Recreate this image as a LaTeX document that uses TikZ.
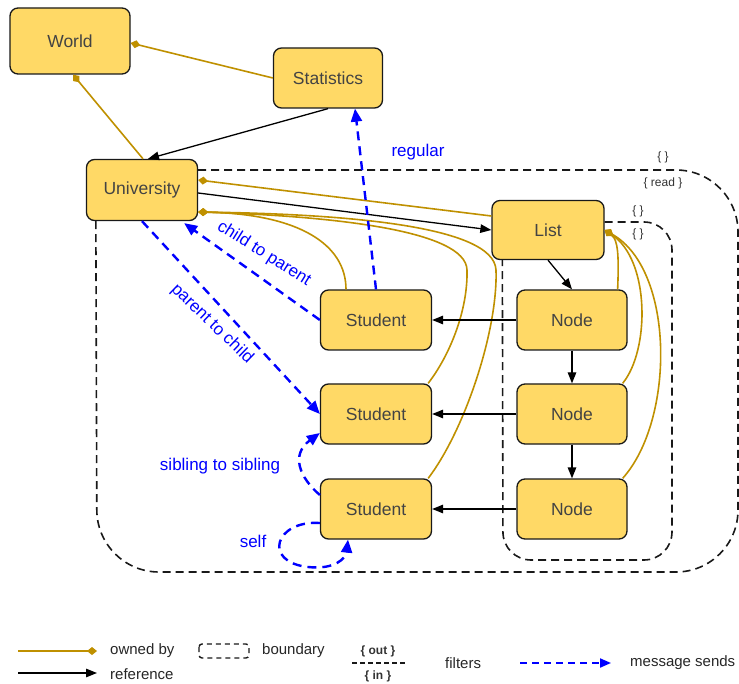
\documentclass[tikz,border=0pt]{standalone}
\usepackage{fontspec}
\setmainfont{Liberation Sans}
\usetikzlibrary{arrows.meta}
\definecolor{boxfill}{HTML}{FFD966}
\definecolor{owncol}{HTML}{BF9000}
\definecolor{msgblue}{HTML}{0000FF}
\definecolor{labgray}{HTML}{434343}
\begin{document}
\begin{tikzpicture}[x=1pt,y=-1pt,
  obj/.style={draw=black!90, line width=1.3pt, fill=boxfill, rounded corners=8pt,
    text=labgray, font=\fontsize{17.5}{20}\selectfont, inner sep=0pt},
  owned/.style={draw=owncol, line width=1.6pt, -{Diamond[length=10pt,width=8pt]}},
  ref/.style={draw=black, line width=1.3pt, -{Triangle[length=11pt,width=8.5pt]}},
  msg/.style={draw=msgblue, line width=2.4pt, dash pattern=on 9pt off 6pt,
    -{Triangle[length=13pt,width=11pt]}},
  bound/.style={draw=black!90, line width=1.6pt, dash pattern=on 8pt off 5pt},
  msglab/.style={text=msgblue, font=\fontsize{17}{20}\selectfont, inner sep=0pt},
  filt/.style={text=black!80, font=\fontsize{12}{14}\selectfont, inner sep=0pt},
  leg/.style={text=black!85, font=\fontsize{15}{18}\selectfont, anchor=west, inner sep=0pt}]

\useasboundingbox (0,0) rectangle (739,684);

% objects
\node[obj, minimum width=120pt, minimum height=66pt] (world) at (70,41) {World};
\node[obj, minimum width=109pt, minimum height=60pt] (stats) at (328,78) {Statistics};
\node[obj, minimum width=111pt, minimum height=61pt] (univ) at (142,190) {University};
\node[obj, minimum width=112pt, minimum height=59pt] (list) at (548,230) {List};
\node[obj, minimum width=111pt, minimum height=60pt] (s1) at (376,320) {Student};
\node[obj, minimum width=111pt, minimum height=60pt] (s2) at (376,414) {Student};
\node[obj, minimum width=111pt, minimum height=60pt] (s3) at (376,509) {Student};
\node[obj, minimum width=110pt, minimum height=60pt] (n1) at (572,320) {Node};
\node[obj, minimum width=110pt, minimum height=60pt] (n2) at (572,414) {Node};
\node[obj, minimum width=110pt, minimum height=60pt] (n3) at (572,509) {Node};

% boundaries
\draw[bound, rounded corners=62pt] ([yshift=20pt]univ.east) -- (738,170) -- (738,572)
  -- (97,572) -- ([xshift=10pt]univ.south west);
\draw[bound, rounded corners=28pt] ([yshift=8pt]list.east) -- (672,222) -- (672,560)
  -- (503,560) -- ([xshift=11pt]list.south west);
\node[filt] (fo1) at (663,157) {\{ \}};
\node[filt] (fi1) at (663,183) {\{ read \}};
\node[filt] (fo2) at (638,211) {\{ \}};
\node[filt] (fi2) at (638,234) {\{ \}};

% ownership
\draw[owned] (stats.west) -- ([yshift=-2pt]world.east);
\draw[owned] ([xshift=1pt]univ.north) -- ([xshift=3pt]world.south);
\draw[owned] ([yshift=14pt]list.west) -- ([yshift=10pt]univ.east);
\coordinate (uown) at ([yshift=-22pt]univ.east);
\draw[owned] ([xshift=-30pt]s1.north) .. controls (346,245) and (300,214) .. (uown);
\draw[owned] ([xshift=-4pt]s2.north east) .. controls (450,355) and (468,310) .. (467,270)
  .. controls (466,230) and (330,216) .. (uown);
\draw[owned] ([xshift=-4pt]s3.north east) .. controls (465,430) and (498,330) .. (496,270)
  .. controls (494,225) and (340,214) .. (uown);
\draw[owned] ([xshift=-10pt]n1.north east) .. controls (619,255) and (618,240) .. (list.east);
\draw[owned] ([xshift=-5pt]n2.north east) .. controls (650,350) and (650,260) .. (list.east);
\draw[owned] ([xshift=-5pt]n3.north east) .. controls (675,420) and (675,270) .. (list.east);

% references
\draw[ref] (stats.south) -- ([xshift=6pt]univ.north);
\draw[ref] ([yshift=-3pt]univ.east) -- (list.west);
\draw[ref] (list.south) -- (n1.north);
\draw[ref] (n1.south) -- (n2.north);
\draw[ref] (n2.south) -- (n3.north);
\draw[ref] (n1.west) -- (s1.east);
\draw[ref] (n2.west) -- (s2.east);
\draw[ref] (n3.west) -- (s3.east);

% message sends
\draw[msg] (s1.north) -- ([xshift=27pt]stats.south);
\node[msglab] (lreg) at (418,152) {regular};
\draw[msg] (s1.west) -- ([xshift=-14pt,yshift=-2pt]univ.south east);
\node[msglab, rotate=-32] (lcp) at (264,254) {child to parent};
\draw[msg] (univ.south) -- (s2.west);
\node[msglab, rotate=-44] (lpc) at (212,324) {parent to child};
\draw[msg] ([yshift=14pt]s3.west) .. controls (300,478) and (290,455) .. ([yshift=-19pt]s2.west);
\node[msglab] (lss) at (220,466) {sibling to sibling};
\draw[msg] ([yshift=-14pt]s3.west) .. controls (275,520) and (262,562) .. (308,567)
  .. controls (335,570) and (346,558) .. ([xshift=-28pt]s3.south);
\node[msglab] (lself) at (253,541) {self};

% legend
\coordinate (ka) at (18,651); \coordinate (kb) at (97,651);
\draw[owned] (ka) -- (kb);
\node[leg] (kown) at (110,651) {owned by};
\coordinate (kc) at (18,673); \coordinate (kd) at (97,673);
\draw[ref] (kc) -- (kd);
\node[leg] (kref) at (110,674) {reference};
\draw[draw=black!90, line width=1.4pt, dash pattern=on 5pt off 4pt, rounded corners=3pt]
  (199,644) rectangle (249,658);
\node[leg] (kbound) at (262,651) {boundary};
\node[filt, font=\fontsize{12}{14}\selectfont\bfseries] (kout) at (378,651) {\{ out \}};
\coordinate (ke) at (352,663); \coordinate (kf) at (406,663);
\draw[draw=black!90, line width=1.4pt, dash pattern=on 5pt off 3pt] (ke) -- (kf);
\node[filt, font=\fontsize{12}{14}\selectfont\bfseries] (kin) at (378,676) {\{ in \}};
\node[leg] (kfilt) at (445,663) {filters};
\coordinate (kg) at (520,663); \coordinate (kh) at (611,663);
\draw[draw=msgblue, line width=2pt, dash pattern=on 7pt off 5pt,
  -{Triangle[length=11pt,width=9pt]}] (kg) -- (kh);
\node[leg] (kmsg) at (630,663) {message sends};
\end{tikzpicture}
\end{document}
